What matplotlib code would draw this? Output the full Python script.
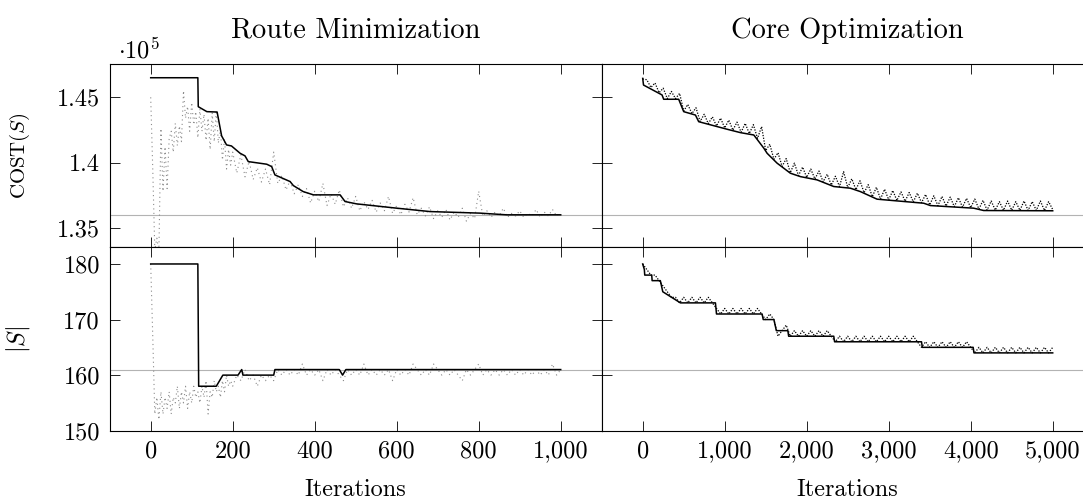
import numpy as np
import matplotlib
matplotlib.use("Agg")
import matplotlib.pyplot as plt
from matplotlib.ticker import FuncFormatter

plt.rcParams["font.family"] = ["cmr10", "DejaVu Serif"]
plt.rcParams["mathtext.fontset"] = "cm"
plt.rcParams["axes.unicode_minus"] = False
plt.rcParams["axes.formatter.use_mathtext"] = True

# ---- route minimization (left column), cost in units of 1e5 ----
rm_best_iter = [0, 115, 116, 137, 162, 173, 185, 197, 218, 230, 238, 283, 295, 303,
                340, 348, 372, 397, 462, 474, 502, 600, 681, 803, 868, 1000]
rm_best_cost = [1.4650, 1.4650, 1.4428, 1.4390, 1.4387, 1.4204, 1.4135, 1.4127, 1.4071,
                1.4051, 1.4007, 1.3987, 1.3969, 1.3905, 1.3854, 1.3823, 1.3777, 1.3752,
                1.3752, 1.3701, 1.3683, 1.3650, 1.3624, 1.3612, 1.3599, 1.3599]
rm_best_routes_iter = [0, 115, 117, 160, 176, 213, 222, 225, 300, 303, 460, 468, 476, 1000]
rm_best_routes = [180, 180, 158, 158, 160, 160, 161, 160, 160, 161, 161, 160, 161, 161]

rm_cur_iter = np.r_[np.arange(0, 200, 5), np.arange(200, 1001, 10)]
rm_cur_cost = [
    1.4500, 1.3950, 1.3330, 1.3420, 1.3320, 1.4260, 1.3780, 1.4120, 1.3800, 1.4180,
    1.4240, 1.4080, 1.4300, 1.4130, 1.4280, 1.4160, 1.4550, 1.4340, 1.4430, 1.4240,
    1.4460, 1.4290, 1.4390, 1.4190, 1.4410, 1.4240, 1.4370, 1.4170, 1.4340, 1.4100,
    1.4380, 1.4160, 1.4400, 1.4150, 1.4250, 1.4020, 1.4180, 1.3950, 1.4100, 1.3980,
    1.4080, 1.3920, 1.4060, 1.3890, 1.4010, 1.3870, 1.3960, 1.3850, 1.3950, 1.3830,
    1.4080, 1.3840, 1.3900, 1.3790, 1.3860, 1.3760, 1.3830, 1.3740, 1.3800, 1.3690,
    1.3780, 1.3700, 1.3840, 1.3670, 1.3760, 1.3680, 1.3790, 1.3660, 1.3730, 1.3650,
    1.3740, 1.3630, 1.3700, 1.3640, 1.3710, 1.3620, 1.3690, 1.3630, 1.3740, 1.3610,
    1.3670, 1.3600, 1.3680, 1.3620, 1.3730, 1.3600, 1.3650, 1.3590, 1.3660, 1.3570,
    1.3630, 1.3580, 1.3640, 1.3560, 1.3620, 1.3580, 1.3650, 1.3550, 1.3610, 1.3570,
    1.3780, 1.3590, 1.3630, 1.3580, 1.3620, 1.3590, 1.3650, 1.3580, 1.3610, 1.3590,
    1.3630, 1.3580, 1.3610, 1.3590, 1.3640, 1.3580, 1.3620, 1.3590, 1.3640, 1.3590,
    1.3620]
rm_cur_routes = [
    180, 167, 153, 156, 152, 157, 153, 156, 154, 157,
    153, 156, 155, 158, 154, 157, 155, 158, 154, 157,
    155, 158, 156, 157, 155, 158, 156, 159, 153, 157,
    156, 159, 157, 158, 156, 159, 157, 160, 158, 159,
    158, 160, 159, 161, 159, 160, 158, 160, 159, 160,
    159, 161, 160, 161, 160, 161, 160, 162, 160, 161,
    160, 161, 159, 161, 160, 161, 160, 159, 161, 160,
    161, 160, 162, 160, 161, 160, 161, 160, 161, 159,
    161, 160, 161, 160, 162, 161, 160, 161, 160, 162,
    161, 160, 161, 160, 161, 160, 159, 161, 160, 161,
    162, 160, 161, 160, 161, 160, 161, 160, 161, 160,
    161, 160, 161, 160, 161, 160, 161, 160, 162, 160,
    161]

# ---- core optimization (right column) ----
co_best_iter = [0, 10, 236, 256, 439, 500, 643, 683, 1030, 1193, 1355, 1477, 1517, 1639,
                1801, 1923, 2126, 2330, 2533, 2655, 2858, 3427, 3508, 4036, 4158, 5000]
co_best_cost = [1.4645, 1.4594, 1.4518, 1.4485, 1.4485, 1.4390, 1.4364, 1.4313, 1.4255,
                1.4229, 1.4211, 1.4110, 1.4071, 1.3995, 1.3918, 1.3892, 1.3867, 1.3816,
                1.3803, 1.3777, 1.3719, 1.3688, 1.3670, 1.3650, 1.3632, 1.3630]
co_best_routes_iter = [0, 20, 25, 110, 115, 215, 245, 460, 887, 900, 1456, 1470, 1600,
                       1630, 1770, 1780, 2330, 2340, 3400, 3410, 4030, 4040, 5000]
co_best_routes = [180, 179, 178, 178, 177, 177, 175, 173, 173, 171, 171, 170, 170,
                  168, 168, 167, 167, 166, 166, 165, 165, 164, 164]

co_cur_iter = np.arange(0, 5001, 50)
co_cur_cost = [
    1.4640, 1.4635, 1.4575, 1.4610, 1.4535, 1.4570, 1.4490, 1.4545, 1.4490, 1.4530,
    1.4395, 1.4445, 1.4375, 1.4420, 1.4315, 1.4370, 1.4298, 1.4350, 1.4280, 1.4340,
    1.4265, 1.4325, 1.4248, 1.4310, 1.4232, 1.4300, 1.4222, 1.4290, 1.4185, 1.4275,
    1.4092, 1.4140, 1.4025, 1.4075, 1.3970, 1.4030, 1.3922, 1.3995, 1.3900, 1.3965,
    1.3886, 1.3950, 1.3874, 1.3935, 1.3852, 1.3910, 1.3827, 1.3895, 1.3815, 1.3930,
    1.3808, 1.3875, 1.3792, 1.3860, 1.3768, 1.3830, 1.3738, 1.3810, 1.3720, 1.3795,
    1.3714, 1.3785, 1.3709, 1.3775, 1.3703, 1.3770, 1.3698, 1.3765, 1.3692, 1.3755,
    1.3675, 1.3745, 1.3669, 1.3740, 1.3666, 1.3735, 1.3662, 1.3730, 1.3658, 1.3725,
    1.3654, 1.3720, 1.3643, 1.3710, 1.3635, 1.3705, 1.3635, 1.3700, 1.3634, 1.3705,
    1.3634, 1.3700, 1.3633, 1.3705, 1.3633, 1.3700, 1.3633, 1.3705, 1.3632, 1.3700,
    1.3640]
co_cur_routes = [
    180, 179, 178, 178, 177, 176, 175, 174, 174, 173,
    174, 173, 174, 173, 174, 173, 174, 173, 172, 171,
    172, 171, 172, 171, 172, 171, 172, 171, 172, 171,
    170, 171, 170, 167, 168, 169, 167, 168, 167, 168,
    167, 168, 167, 168, 167, 168, 167, 166, 167, 166,
    167, 166, 167, 166, 167, 166, 167, 166, 167, 166,
    167, 166, 167, 166, 167, 166, 167, 166, 165, 166,
    165, 166, 165, 166, 165, 166, 165, 166, 165, 166,
    165, 164, 165, 164, 165, 164, 165, 164, 165, 164,
    165, 164, 165, 164, 165, 164, 165, 164, 165, 164,
    165]

ref_cost = 1.36
ref_routes = 161

FS = 17.5
W, H = 1083, 500


def comma(v, pos):
    return f"{int(round(v)):,}"


def style(ax):
    ax.tick_params(direction="in", top=True, right=True, length=7.5, width=0.6,
                   labelsize=FS, pad=7)
    for s in ax.spines.values():
        s.set_linewidth(0.8)


fig = plt.figure(figsize=(W / 100, H / 100), dpi=100)
x0l, x0r, aw = 109.7 / W, 601.7 / W, 492 / W
ax_tl = fig.add_axes([x0l, 1 - 247.3 / H, aw, 183 / H])
ax_tr = fig.add_axes([x0r, 1 - 247.3 / H, aw, 183 / H])
ax_bl = fig.add_axes([x0l, 1 - 430.7 / H, aw, 183.4 / H])
ax_br = fig.add_axes([x0r, 1 - 430.7 / H, aw, 183.4 / H])

gray_ls = (0, (1, 3))
dense_ls = (0, (1, 1.2))

ax_tl.plot(rm_cur_iter, rm_cur_cost, color="0.55", lw=0.8, ls=gray_ls)
ax_tl.plot(rm_best_iter, rm_best_cost, color="black", lw=1.1)
ax_bl.plot(rm_cur_iter, rm_cur_routes, color="0.55", lw=0.8, ls=gray_ls)
ax_bl.plot(rm_best_routes_iter, rm_best_routes, color="black", lw=1.1)
ax_tr.plot(co_cur_iter, co_cur_cost, color="black", lw=0.9, ls=dense_ls)
ax_tr.plot(co_best_iter, co_best_cost, color="black", lw=1.1)
ax_br.plot(co_cur_iter, co_cur_routes, color="black", lw=0.9, ls=dense_ls)
ax_br.plot(co_best_routes_iter, co_best_routes, color="black", lw=1.1)

for ax in (ax_tl, ax_tr):
    ax.axhline(ref_cost, color="0.7", lw=0.8, zorder=0)
    ax.set_ylim(1.335, 1.4753)
    ax.set_yticks([1.35, 1.4, 1.45])
    ax.yaxis.set_major_formatter(FuncFormatter(lambda v, p: f"{v:g}"))
for ax in (ax_bl, ax_br):
    ax.axhline(ref_routes, color="0.7", lw=0.8, zorder=0)
    ax.set_ylim(150, 183)
    ax.set_yticks([150, 160, 170, 180])
    ax.set_xlabel("Iterations", fontsize=FS, labelpad=12)
for ax in (ax_tl, ax_bl):
    ax.set_xlim(-100, 1100)
    ax.set_xticks(range(0, 1001, 200))
for ax in (ax_tr, ax_br):
    ax.set_xlim(-500, 5500)
    ax.set_xticks(range(0, 5001, 1000))

for ax in (ax_tl, ax_tr, ax_bl, ax_br):
    style(ax)
    ax.xaxis.set_major_formatter(FuncFormatter(comma))
ax_tl.tick_params(labelbottom=False)
ax_tr.tick_params(labelbottom=False, labelleft=False)
ax_br.tick_params(labelleft=False)
ax_bl.yaxis.set_major_formatter(FuncFormatter(comma))

ax_tl.set_title("Route Minimization", fontsize=20.5, pad=19)
ax_tr.set_title("Core Optimization", fontsize=20.5, pad=19)

ax_tl.set_ylabel(r"$\mathrm{COST}(S)$", fontsize=15)
ax_bl.set_ylabel(r"$|S|$", fontsize=FS)
ax_tl.yaxis.set_label_coords(-0.158, 0.5)
ax_bl.yaxis.set_label_coords(-0.158, 0.5)

fig.text(118 / W, 1 - 58 / H, r"$\cdot 10^{5}$", fontsize=FS, va="baseline", ha="left")

fig.savefig("out.png", dpi=100)
